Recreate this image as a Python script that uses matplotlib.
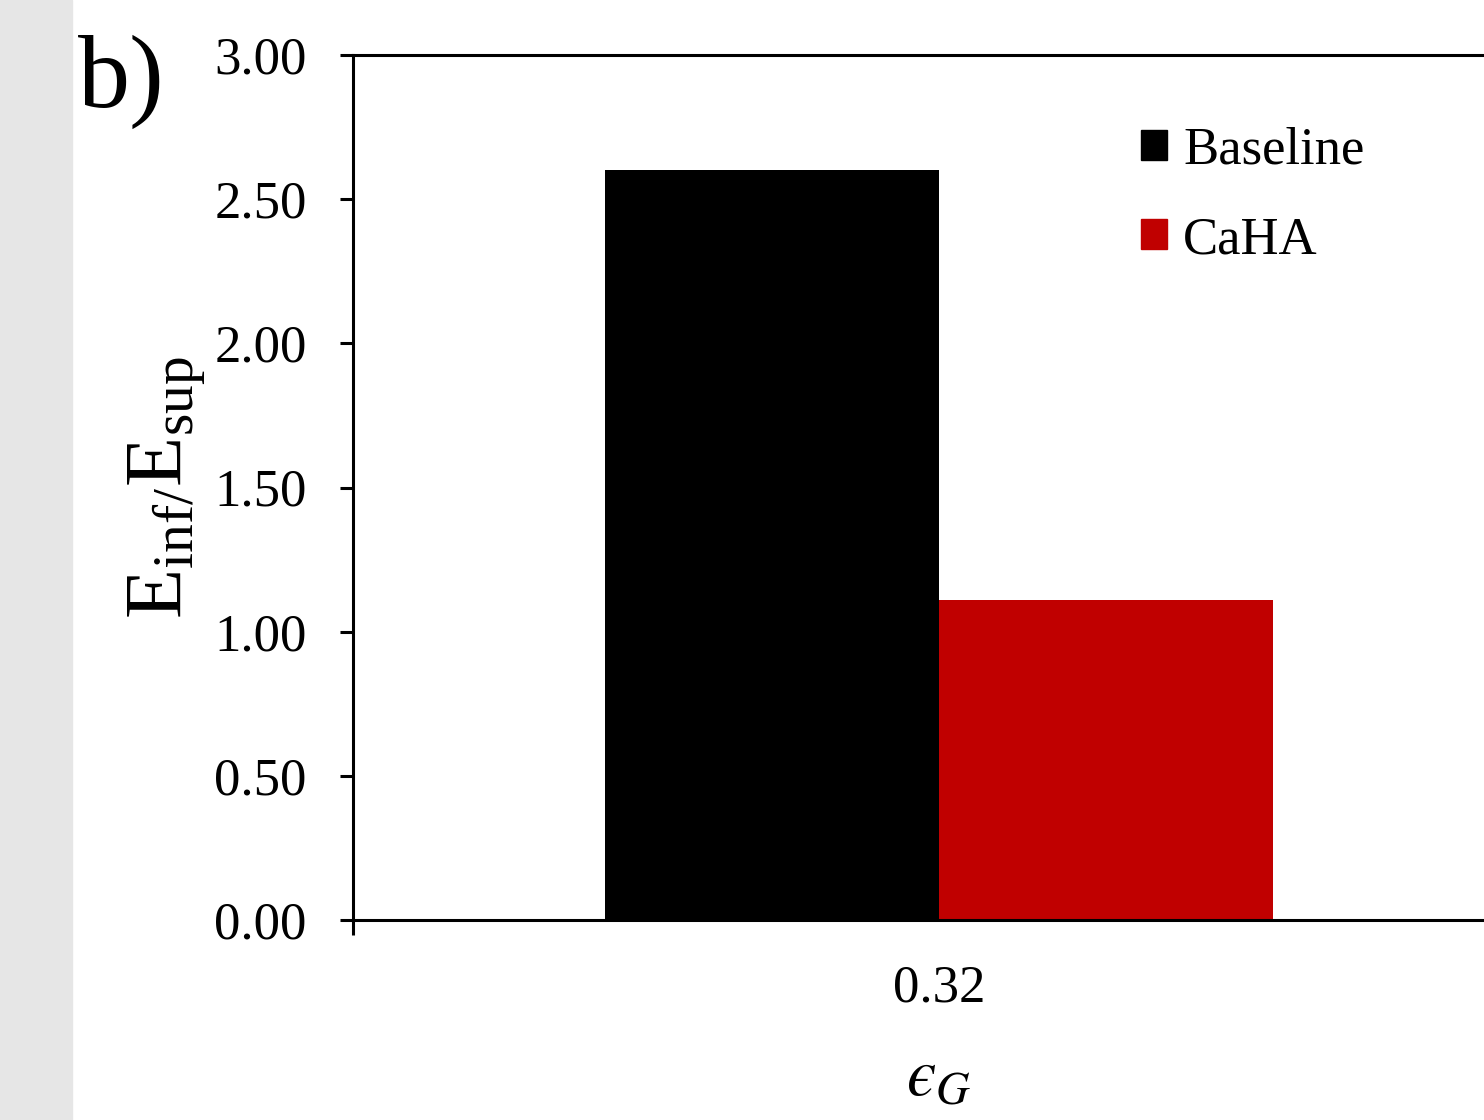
import matplotlib
matplotlib.use("Agg")
import matplotlib.pyplot as plt
from matplotlib.patches import Rectangle, Patch

categories = ["0.32"]
series_names = ["Baseline", "CaHA"]
baseline = [2.60]
caha = [1.11]
colors = ["#000000", "#C00000"]
yticks = [0.0, 0.5, 1.0, 1.5, 2.0, 2.5, 3.0]

plt.rcParams['font.family'] = ['Liberation Serif', 'DejaVu Serif']
plt.rcParams['mathtext.fontset'] = 'custom'
plt.rcParams['mathtext.rm'] = 'Liberation Serif'
plt.rcParams['mathtext.it'] = 'Liberation Serif:italic'

W, H = 1484, 1120
fig = plt.figure(figsize=(W/100, H/100), dpi=100)
fig.patches.append(Rectangle((0, 0), 72/W, 1, transform=fig.transFigure,
                             color="#e6e6e6", zorder=0))

ax = fig.add_axes([353/W, 1-920/H, (1525-353)/W, (920-55)/H])
bw = 0.285
x = list(range(len(categories)))
ax.bar([i - bw/2 for i in x], baseline, width=bw, color=colors[0], zorder=2)
ax.bar([i + bw/2 for i in x], caha, width=bw, color=colors[1], zorder=2)

ax.set_xlim(-0.5, len(categories) - 0.5)
ax.set_ylim(0, 3.0)
ax.set_yticks(yticks)
ax.set_yticklabels([f"{v:.2f}" for v in yticks])
ax.set_xticks(x)
ax.set_xticklabels(categories)
ax.set_xticks([-0.5], minor=True)

for s in ["left", "bottom", "top"]:
    ax.spines[s].set_linewidth(2.2)
ax.spines["right"].set_visible(False)

ax.tick_params(axis='y', direction='out', length=9.4, width=2.2, pad=24, labelsize=38)
ax.tick_params(axis='x', which='major', length=0, pad=32, labelsize=38)
ax.tick_params(axis='x', which='minor', direction='out', length=10.5, width=2.2)

ax.set_ylabel(r"$\mathrm{E_{inf/}E_{sup}}$", fontsize=59, labelpad=5)
ax.set_xlabel("$\u03f5_G$", fontsize=48, math_fontfamily='stix', labelpad=26)

handles = [Patch(color=c) for c in colors]
leg = ax.legend(handles, series_names, loc='upper left',
                bbox_to_anchor=(1141/W, 1-127/H), bbox_transform=fig.transFigure,
                frameon=False, fontsize=38, handlelength=0.5, handleheight=0.5,
                handletextpad=0.3, labelspacing=0.78, borderpad=0, borderaxespad=0)

fig.text(78/W, 1-82/H, "b)", fontsize=75, va='center', ha='left')

fig.savefig("out.png", dpi=100)
